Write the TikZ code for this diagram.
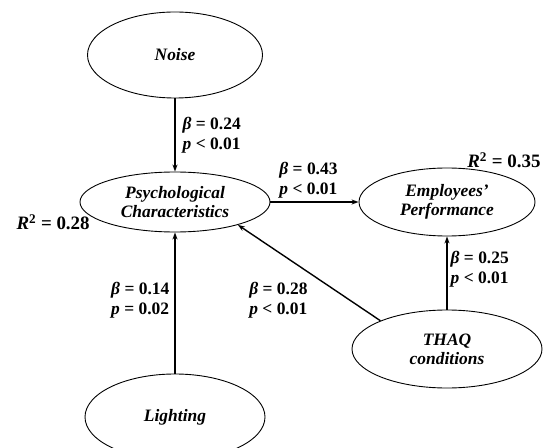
\documentclass[tikz,border=0pt]{standalone}
\usepackage{fontspec}
\setmainfont{Liberation Serif}
\usepackage{tikz}
\usetikzlibrary{
  shapes.geometric,
  arrows.meta,
  positioning
}
\tikzset{
  var/.style={
    ellipse,
    draw,
    line width=0.9pt,
    align=center,
    inner sep=0pt,
    font=\fontsize{17.5}{19}\selectfont\bfseries\itshape,
  },
  edge/.style={
    line width=1.4pt,
    -{Stealth[length=7pt,width=5pt]},
  },
  coef/.style={
    align=left,
    inner sep=5pt,
    font=\fontsize{17.5}{20}\selectfont\bfseries,
  },
  rsq/.style={
    font=\fontsize{19}{20}\selectfont\bfseries,
  },
}
\newcommand{\bcoef}[3]{\textit{β} = #1\\\textit{p} #2 #3}
\newcommand{\rsqval}[1]{\textit{R}\textsuperscript{2} = #1}

\begin{document}
\begin{tikzpicture}[x=1bp,y=-1bp]
	\useasboundingbox (0,0) rectangle (544,448);

	% latent variables
	\node[var,minimum width=175bp,minimum height=86bp] (noise) at (175,55) {Noise};
	\node[var,minimum width=190bp,minimum height=60bp] (psych) at (175,202) {Psychological\\Characteristics};
	\node[var,minimum width=176bp,minimum height=68bp] (perf) at (447,202) {Employees’\\Performance};
	\node[var,minimum width=190bp,minimum height=78bp] (thaq) at (447,349) {THAQ\\conditions};
	\node[var,minimum width=180bp,minimum height=86bp] (light) at (175,417) {Lighting};

	% paths
	\draw[edge] (noise) -- node[coef,right,inner sep=7pt] {\bcoef{0.24}{<}{0.01}} (psych);
	\draw[edge] (light) -- node[coef,left,yshift=3bp] {\bcoef{0.14}{=}{0.02}} (psych);
	\draw[edge] (psych) -- node[coef,above,xshift=-6bp,inner sep=3pt] {\bcoef{0.43}{<}{0.01}} (perf);
	\draw[edge] (thaq) -- node[coef,right,yshift=4bp,inner sep=3pt] {\bcoef{0.25}{<}{0.01}} (perf);
	\draw[edge] (thaq.157) -- node[coef,below left,xshift=4bp,yshift=-4bp] {\bcoef{0.28}{<}{0.01}} (psych.-20);

	% explained variance
	\node[rsq,anchor=west] (rpsych) at (13,222) {\rsqval{0.28}};
	\node[rsq,anchor=east] (rperf) at (544,160) {\rsqval{0.35}};
\end{tikzpicture}
\end{document}
